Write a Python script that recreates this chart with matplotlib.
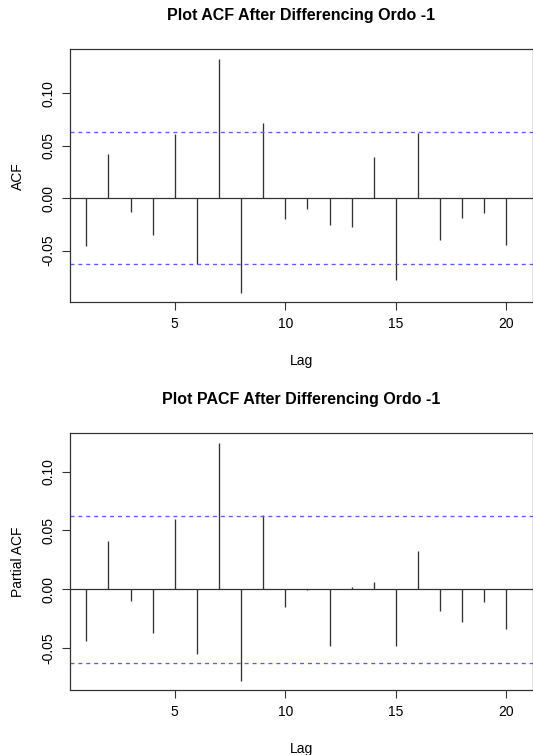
import matplotlib.pyplot as plt
import numpy as np

plt.rcParams['font.family'] = ['Liberation Sans', 'DejaVu Sans']

lags = np.arange(1, 21)
acf_vals = [-0.0454, 0.0422, -0.0137, -0.0349, 0.0613, -0.0632, 0.1327, -0.0905, 0.0717, -0.0197,
            -0.0105, -0.0254, -0.0276, 0.0390, -0.0778, 0.0622, -0.0403, -0.0187, -0.0143, -0.0451]
pacf_vals = [-0.0438, 0.0410, -0.0096, -0.0373, 0.0599, -0.0548, 0.1246, -0.0777, 0.0630, -0.0147,
             -0.0004, -0.0486, 0.0017, 0.0059, -0.0483, 0.0325, -0.0181, -0.0282, -0.0107, -0.0342]
conf = 0.0626
x_ticks = [5, 10, 15, 20]
y_ticks = [-0.05, 0.00, 0.05, 0.10]


def draw_acf(ax, values, title, ylab, ylim):
    ax.vlines(lags, 0, values, color='#333333', lw=0.95)
    ax.axhline(0, color='#333333', lw=0.9)
    for c in (conf, -conf):
        ax.axhline(c, color='#5a5aff', lw=0.95, dashes=(3, 3))
    ax.set_xlim(0.26, 21.2)
    ax.set_ylim(*ylim)
    ax.set_xticks(x_ticks)
    ax.set_yticks(y_ticks)
    ax.set_yticklabels([f'{v:.2f}' for v in y_ticks], rotation=90, va='center')
    ax.tick_params(direction='out', length=5.5, width=0.8, labelsize=10, color='#333333', pad=5)
    for s in ax.spines.values():
        s.set_color('#333333')
        s.set_linewidth(0.9)
    ax.set_xlabel('Lag', fontsize=10, labelpad=17)
    ax.set_ylabel(ylab, fontsize=10, labelpad=12)
    ax.set_title(title, fontsize=11.5, fontweight='bold', pad=21)


fig = plt.figure(figsize=(5.33, 7.55), dpi=100)
ax1 = fig.add_axes([0.1313, 0.5996, 0.8687, 0.3351])
ax2 = fig.add_axes([0.1313, 0.0861, 0.8687, 0.3400])

draw_acf(ax1, acf_vals, 'Plot ACF After Differencing Ordo -1', 'ACF', (-0.0994, 0.1419))
draw_acf(ax2, pacf_vals, 'Plot PACF After Differencing Ordo -1', 'Partial ACF', (-0.0856, 0.1325))

fig.savefig('out.png', dpi=100)
